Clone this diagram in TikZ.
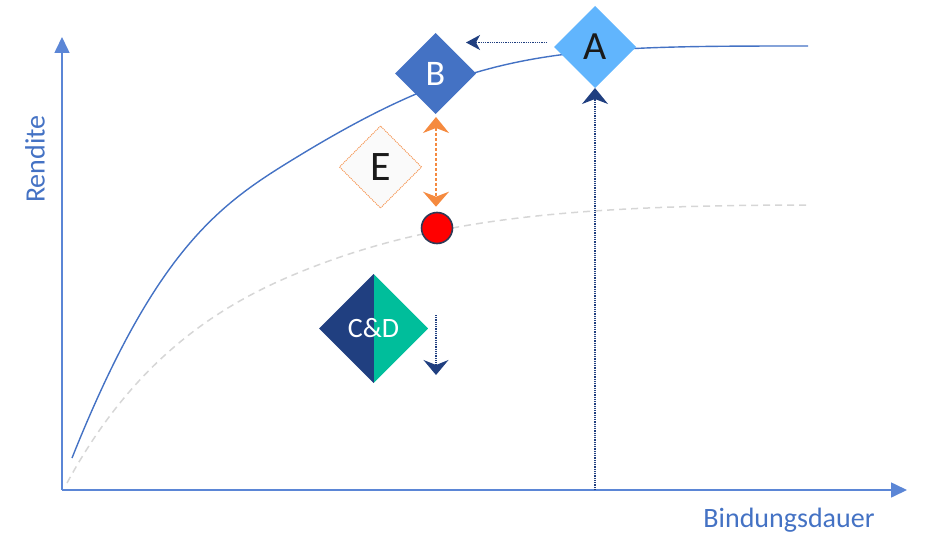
\documentclass[tikz,border=0pt]{standalone}
\usepackage{fontspec}
\setmainfont{Carlito}
\usetikzlibrary{shapes.geometric,arrows.meta,calc}
\definecolor{axisblue}{HTML}{5B86D6}
\definecolor{curveblue}{HTML}{4472C4}
\definecolor{lightA}{HTML}{61B5FD}
\definecolor{navy}{HTML}{203F80}
\definecolor{tealgreen}{HTML}{00BE9B}
\definecolor{orangeE}{HTML}{F58A3F}
\definecolor{dashgray}{HTML}{D6D6D6}
\definecolor{dotborder}{HTML}{2F3A56}
\definecolor{textdark}{HTML}{1A1A1A}
\tikzset{
  axisline/.style={draw=axisblue, line width=1.6pt, -{Triangle[length=16pt,width=15pt]}},
  axislabel/.style={text=curveblue, font=\fontsize{28}{30}\selectfont, inner sep=0pt},
  dia/.style={diamond, aspect=1, inner sep=0pt, outer sep=0pt, minimum size=82pt},
  navyarr/.style={draw=navy, line width=1.2pt, dash pattern=on 1pt off 0.8pt},
  orangearr/.style={draw=orangeE, line width=1.3pt, dash pattern=on 3pt off 2pt},
}
\begin{document}
\begin{tikzpicture}[x=1pt,y=-1pt]
\useasboundingbox (0,0) rectangle (925,535);
% axes
\coordinate (o) at (62,490);
\coordinate (xend) at (907,490);
\coordinate (ytop) at (62,37);
\draw[axisline] (o) -- (xend);
\draw[axisline] (o) -- (ytop);
\node[axislabel, rotate=90] (rendite) at (35,159) {Rendite};
\node[axislabel, anchor=base] (bind) at (789,527) {Bindungsdauer};
% curves
\draw[dashgray, line width=1.5pt, dash pattern=on 7pt off 5pt]
  (67,483) .. controls (132,363.4) and (213,308.6) .. (293,275)
           .. controls (423,220.4) and (560,205) .. (810,205);
\draw[curveblue, line width=1.4pt]
  (72,458) .. controls (157,245.5) and (222,202.75) .. (297,157)
           .. controls (477,47.2) and (558,46) .. (808,46);
% nodes
\node[dia, fill=lightA, text=textdark, font=\fontsize{40}{42}\selectfont] (A) at (595,47) {A};
\node[dia, minimum size=81pt, fill=curveblue, text=white, font=\fontsize{36}{38}\selectfont] (B) at (435.5,73.5) {B};
\node[dia, fill=black!2, draw=orangeE, line width=1pt, dash pattern=on 1pt off 1pt, text=textdark, font=\fontsize{42}{44}\selectfont] (E) at (380.5,167) {E};
\node[dia, minimum size=109pt, text=white, font=\fontsize{28}{30}\selectfont,
  path picture={
    \fill[navy] (path picture bounding box.south west) rectangle (path picture bounding box.north);
    \fill[tealgreen] (path picture bounding box.south) rectangle (path picture bounding box.north east);
  }] (CD) at (373.5,328.5) {C\&D};
\node[circle, fill=red, draw=dotborder, line width=1.6pt, minimum size=31pt, inner sep=0pt] (dot) at (437,228) {};
% connectors
\draw[navyarr, -{Stealth[length=14pt,width=15pt,inset=4pt]}] ($(A.west)+(-7,-4.5)$) -- ($(B.east)+(-10,-31)$);
\draw[navyarr, -{Stealth[length=16pt,width=26pt,inset=5pt]}] (A |- o) -- (A.south);
\draw[orangearr, {Stealth[length=16pt,width=26pt,inset=5pt]}-{Stealth[length=15pt,width=26pt,inset=5pt]}, shorten <=3pt, shorten >=5pt] ($(B.south)+(0.5,0)$) -- ($(dot.north)+(-1,0)$);
\coordinate (cdtop) at (436,315);
\coordinate (cdbot) at (436,375);
\draw[navyarr, -{Stealth[length=15pt,width=25pt,inset=5pt]}] (cdtop) -- (cdbot);
\end{tikzpicture}
\end{document}
